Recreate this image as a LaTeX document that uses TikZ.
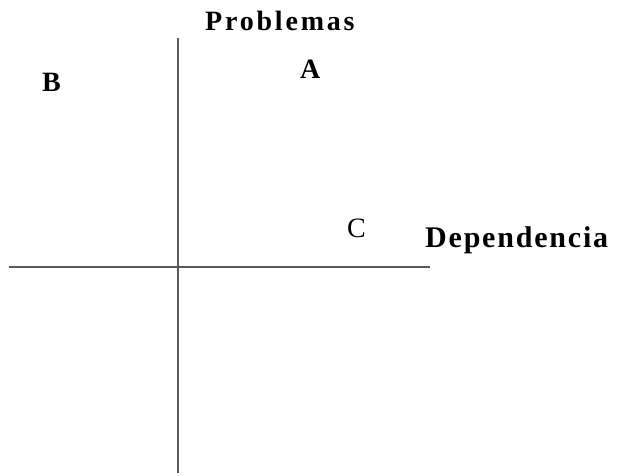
\documentclass[tikz,border=0pt]{standalone}
\usepackage{fontspec}
\setmainfont{Liberation Serif}
\tikzset{
  axis/.style={line width=1.2pt,color=black!65},
  lbl/.style={anchor=base west,inner sep=0pt,font=\fontsize{28}{32}\selectfont},
  spaced/.style={lbl,font=\fontsize{28}{32}\selectfont\bfseries\addfontfeature{LetterSpace=10}}
}

\begin{document}
\begin{tikzpicture}[line cap=butt,line join=round,x=1pt,y=1pt]
  \useasboundingbox (0,0) rectangle (621,475);
  % ejes
  \coordinate (ytop) at (178,437);
  \coordinate (ybot) at (178,2);
  \coordinate (xleft) at (9,208);
  \coordinate (xright) at (430,208);
  \draw[axis] (ytop) -- (ybot);
  \draw[axis] (xleft) -- (xright);
  % titulos de los ejes
  \node[spaced] (probl) at (205,444) {Problemas};
  \node[spaced,font=\fontsize{30}{34}\selectfont\bfseries\addfontfeature{LetterSpace=6}]
    (depend) at (425,228) {Dependencia};
  % cuadrantes
  \node[lbl,font=\fontsize{28}{32}\selectfont\bfseries] (qb) at (42,383) {B};
  \node[lbl,font=\fontsize{28}{32}\selectfont\bfseries] (qa) at (300,396) {A};
  \node[lbl] (qc) at (347,238) {C};
\end{tikzpicture}
\end{document}
